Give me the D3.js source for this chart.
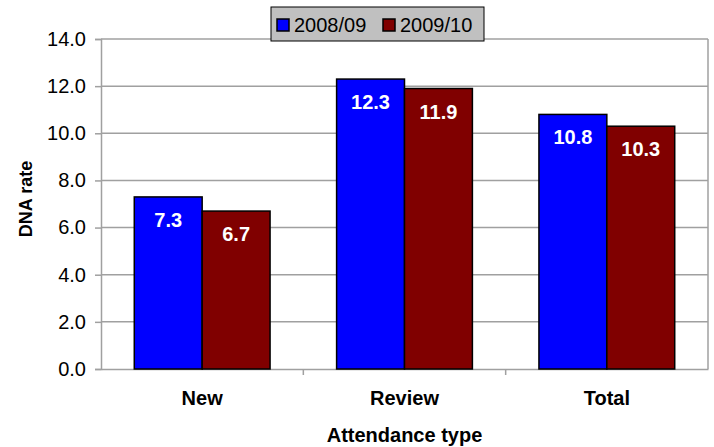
<!DOCTYPE html>
<html>
<head>
<meta charset="utf-8">
<script src="https://cdn.jsdelivr.net/npm/d3@7"></script>
<style>
  body { margin: 0; background: #fff; }
  text { font-family: "Liberation Sans", Arial, sans-serif; }
</style>
</head>
<body>
<div id="chart"></div>
<script>
// data
var categories = ["New", "Review", "Total"];
var seriesNames = ["2008/09", "2009/10"];
var values0809 = [7.3, 12.3, 10.8];
var values0910 = [6.7, 11.9, 10.3];
var yTicks = [0, 2, 4, 6, 8, 10, 12, 14];
var colors = ["#0000ff", "#800000"];

var W = 714, H = 447;
var margin = {left: 101, right: 6, top: 39, bottom: 78};

var svg = d3.select("#chart").append("svg")
    .attr("width", W)
    .attr("height", H);

var x = d3.scaleBand()
    .domain(categories)
    .range([margin.left, W - margin.right]);

var xInner = d3.scaleBand()
    .domain(seriesNames)
    .range([0, x.bandwidth()])
    .paddingOuter(0.49);

var y = d3.scaleLinear()
    .domain([0, 14])
    .range([H - margin.bottom, margin.top]);

// gridlines
svg.append("g")
    .selectAll("line")
    .data(yTicks.slice(1))
    .enter().append("line")
    .attr("x1", margin.left)
    .attr("x2", W - margin.right)
    .attr("y1", function (d) { return y(d); })
    .attr("y2", function (d) { return y(d); })
    .attr("stroke", "#a0a0a0")
    .attr("stroke-width", 1.5);

// right border of plot
svg.append("line")
    .attr("x1", W - margin.right).attr("x2", W - margin.right)
    .attr("y1", margin.top).attr("y2", H - margin.bottom)
    .attr("stroke", "#a0a0a0")
    .attr("stroke-width", 1.5);

// y axis
var yAxis = svg.append("g")
    .attr("transform", "translate(" + margin.left + ",0)")
    .call(d3.axisLeft(y).tickValues(yTicks).tickFormat(d3.format(".1f")).tickSize(6).tickPadding(9));
yAxis.select(".domain").attr("stroke", "#a0a0a0").attr("stroke-width", 1.5);
yAxis.selectAll(".tick line").attr("stroke", "#a0a0a0").attr("stroke-width", 1.5);
yAxis.selectAll(".tick text")
    .attr("font-size", "20px")
    .attr("fill", "#000")
    .style("font-family", "'Liberation Sans', Arial, sans-serif");

// x axis
var xAxis = svg.append("g")
    .attr("transform", "translate(0," + (H - margin.bottom) + ")")
    .call(d3.axisBottom(x).tickSize(0).tickPadding(22));
xAxis.select(".domain").attr("stroke", "#a0a0a0").attr("stroke-width", 1.5);
xAxis.selectAll(".tick text")
    .attr("font-size", "20px")
    .attr("font-weight", "bold")
    .attr("fill", "#000")
    .style("font-family", "'Liberation Sans', Arial, sans-serif");
// tick marks between categories
xAxis.selectAll(".sep")
    .data(categories.slice(1))
    .enter().append("line")
    .attr("class", "sep")
    .attr("x1", function (d) { return x(d); })
    .attr("x2", function (d) { return x(d); })
    .attr("y1", 0).attr("y2", 6)
    .attr("stroke", "#a0a0a0")
    .attr("stroke-width", 1.5);

// bars
var rows = categories.map(function (c, i) {
  return {cat: c, vals: [values0809[i], values0910[i]]};
});

var groups = svg.append("g")
    .selectAll("g")
    .data(rows)
    .enter().append("g")
    .attr("transform", function (d) { return "translate(" + x(d.cat) + ",0)"; });

groups.selectAll("rect")
    .data(function (d) { return d.vals.map(function (v, j) { return {s: seriesNames[j], v: v, j: j}; }); })
    .enter().append("rect")
    .attr("x", function (d) { return xInner(d.s); })
    .attr("width", xInner.bandwidth())
    .attr("y", function (d) { return y(d.v); })
    .attr("height", function (d) { return y(0) - y(d.v); })
    .attr("fill", function (d) { return colors[d.j]; })
    .attr("stroke", "#000")
    .attr("stroke-width", 1.5);

groups.selectAll("text.val")
    .data(function (d) { return d.vals.map(function (v, j) { return {s: seriesNames[j], v: v}; }); })
    .enter().append("text")
    .attr("class", "val")
    .attr("x", function (d) { return xInner(d.s) + xInner.bandwidth() / 2; })
    .attr("y", function (d) { return y(d.v) + 30; })
    .attr("text-anchor", "middle")
    .attr("font-size", "20px")
    .attr("font-weight", "bold")
    .attr("fill", "#fff")
    .text(function (d) { return d3.format(".1f")(d.v); });

// axis titles
svg.append("text")
    .attr("x", (margin.left + W - margin.right) / 2)
    .attr("y", 442)
    .attr("text-anchor", "middle")
    .attr("font-size", "20px")
    .attr("font-weight", "bold")
    .text("Attendance type");

svg.append("text")
    .attr("transform", "translate(32,199) rotate(-90)")
    .attr("text-anchor", "middle")
    .attr("font-size", "18px")
    .attr("font-weight", "bold")
    .text("DNA rate");

// legend
var legend = svg.append("g").attr("transform", "translate(271,7)");
legend.append("rect")
    .attr("width", 213).attr("height", 34)
    .attr("fill", "#c0c0c0")
    .attr("stroke", "#000")
    .attr("stroke-width", 1);
var legX = [6, 112];
seriesNames.forEach(function (s, i) {
  legend.append("rect")
      .attr("x", legX[i]).attr("y", 12)
      .attr("width", 12).attr("height", 12)
      .attr("fill", colors[i])
      .attr("stroke", "#000")
      .attr("stroke-width", 1.5);
  legend.append("text")
      .attr("x", legX[i] + 17).attr("y", 25)
      .attr("font-size", "20px")
      .text(s);
});
</script>
</body>
</html>
